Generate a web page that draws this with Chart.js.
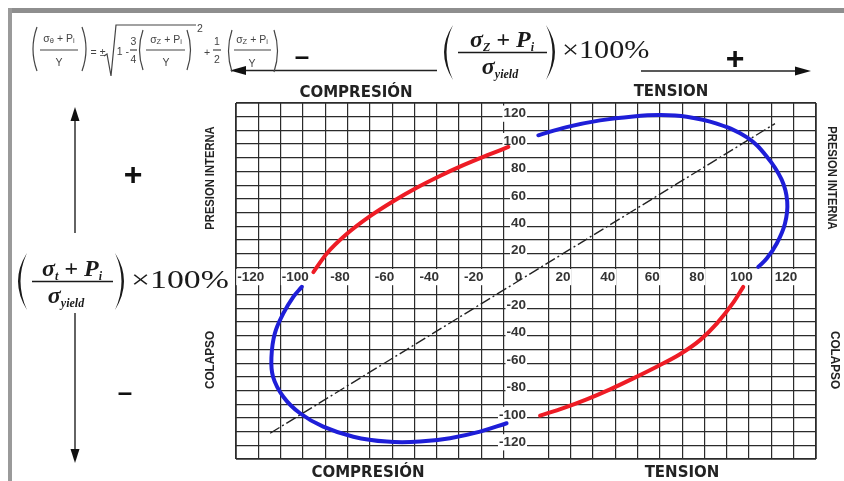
<!DOCTYPE html>
<html><head><meta charset="utf-8">
<script src="https://cdn.jsdelivr.net/npm/chart.js@4.4.1/dist/chart.umd.min.js"></script>
<style>
html,body{margin:0;padding:0;background:#fff;}
#wrap{position:relative;width:844px;height:481px;overflow:hidden;font-family:"Liberation Sans",Arial,sans-serif;background:#fff;}
#c{position:absolute;left:0;top:0;}
svg.deco{position:absolute;left:0;top:0;}
.c{position:absolute;transform:translate(-50%,-50%);white-space:nowrap;line-height:1;}
.l{position:absolute;transform:translate(0,-50%);white-space:nowrap;line-height:1;transform-origin:left center;}
.hdr{font-family:"DejaVu Sans",sans-serif;font-weight:bold;font-size:15px;color:#222;}
.vt{font-family:"Liberation Sans",Arial,sans-serif;font-weight:bold;font-size:13.5px;color:#222;}
.sm{font-family:"Liberation Sans",Arial,sans-serif;font-size:10.5px;color:#444;}
.sm sub{font-size:7.5px;vertical-align:-1px;}
.bf{font-family:"Liberation Serif","Times New Roman",serif;font-weight:bold;font-style:italic;font-size:24px;color:#1a1a1a;}
.bf sub{font-size:12px;vertical-align:-4px;}
.pct{font-family:"Liberation Serif","Times New Roman",serif;font-size:26px;color:#1a1a1a;}
.sign{font-family:"Liberation Sans",Arial,sans-serif;font-weight:bold;color:#111;}
</style></head>
<body>
<div id="wrap">
<canvas id="c" width="844" height="481"></canvas>
<svg class="deco" width="844" height="481">
  <rect x="8" y="8" width="836" height="5" fill="#8e8e8e"/>
  <rect x="8" y="8" width="4" height="473" fill="#9a9a9a"/>
  <line x1="242" y1="70.5" x2="437" y2="70.5" stroke="#222" stroke-width="1.4"/>
  <polygon points="230,70.5 246,66 246,75" fill="#111"/>
  <line x1="641" y1="71" x2="798" y2="71" stroke="#222" stroke-width="1.4"/>
  <polygon points="811,71 795,66.5 795,75.5" fill="#111"/>
  <line x1="75" y1="118" x2="75" y2="233" stroke="#222" stroke-width="1.4"/>
  <polygon points="75,107 70.5,121 79.5,121" fill="#111"/>
  <line x1="75" y1="313" x2="75" y2="452" stroke="#222" stroke-width="1.4"/>
  <polygon points="75,463 70.5,449 79.5,449" fill="#111"/>
  <path d="M453,25 Q435,52 453,80 Q440,52 453,25 Z" fill="#1a1a1a"/>
  <path d="M546,25 Q564,52 546,80 Q559,52 546,25 Z" fill="#1a1a1a"/>
  <line x1="458" y1="52.5" x2="547" y2="52.5" stroke="#1a1a1a" stroke-width="1.5"/>
  <path d="M27,253 Q9,281 27,310 Q14,281 27,253 Z" fill="#1a1a1a"/>
  <path d="M115,253 Q133,281 115,310 Q128,281 115,253 Z" fill="#1a1a1a"/>
  <line x1="32" y1="281.5" x2="113" y2="281.5" stroke="#1a1a1a" stroke-width="1.5"/>
  <g stroke="#444" stroke-width="1.2" fill="none">
    <path d="M37,27 Q29,49 37,71"/><path d="M82,27 Q90,49 82,71"/>
    <line x1="40" y1="50" x2="78" y2="50"/>
    <path d="M104,56 L107,54 L111,76 L116,25 L196,25"/>
    <line x1="130" y1="50" x2="137" y2="50"/>
    <path d="M143,30 Q136,50 143,70"/><path d="M187,30 Q194,50 187,70"/>
    <line x1="146" y1="50" x2="185" y2="50"/>
    <line x1="213" y1="50" x2="221" y2="50"/>
    <path d="M232,30 Q225,51 232,72"/><path d="M274,30 Q281,51 274,72"/>
    <line x1="234" y1="50" x2="271" y2="50"/>
  </g>
</svg>
<div class="c sm" style="left:59px;top:39px">σ<sub>θ</sub> + P<sub>i</sub></div>
<div class="c sm" style="left:59px;top:62px">Y</div>
<div class="c sm" style="left:98px;top:52px">= ±</div>
<div class="c sm" style="left:123px;top:51px">1 -</div>
<div class="c sm" style="left:133.5px;top:41px">3</div>
<div class="c sm" style="left:133.5px;top:59px">4</div>
<div class="c sm" style="left:166px;top:40px">σ<sub>Z</sub> + P<sub>i</sub></div>
<div class="c sm" style="left:166px;top:62px">Y</div>
<div class="c sm" style="left:200px;top:28px">2</div>
<div class="c sm" style="left:207px;top:52px">+</div>
<div class="c sm" style="left:217px;top:41px">1</div>
<div class="c sm" style="left:217px;top:59px">2</div>
<div class="c sm" style="left:252px;top:40px">σ<sub>Z</sub> + P<sub>i</sub></div>
<div class="c sm" style="left:252px;top:63px">Y</div>
<div class="c bf" style="left:502px;top:40px">σ<sub>Z</sub> + P<sub>i</sub></div>
<div class="c bf" style="left:500px;top:67px">σ<sub>yield</sub></div>
<div class="l pct" style="left:562px;top:50px;transform:translate(0,-50%) scaleX(1.16)">×100%</div>
<div class="c bf" style="left:72px;top:269px">σ<sub>t</sub> + P<sub>i</sub></div>
<div class="c bf" style="left:66px;top:296px">σ<sub>yield</sub></div>
<div class="l pct" style="left:131px;top:280px;transform:translate(0,-50%) scaleX(1.3)">×100%</div>
<div class="c sign" style="left:302px;top:56px;font-size:26px">–</div>
<div class="c sign" style="left:735px;top:58px;font-size:32px">+</div>
<div class="c sign" style="left:133px;top:174px;font-size:32px">+</div>
<div class="c sign" style="left:125px;top:392px;font-size:26px">–</div>
<div class="c hdr" style="left:356px;top:92px">COMPRESIÓN</div>
<div class="c hdr" style="left:671px;top:91px">TENSION</div>
<div class="c hdr" style="left:368px;top:472px">COMPRESIÓN</div>
<div class="c hdr" style="left:682px;top:472px">TENSION</div>
<div class="c vt" style="left:210px;top:178px;transform:translate(-50%,-50%) rotate(-90deg) scaleX(0.83)">PRESION INTERNA</div>
<div class="c vt" style="left:210px;top:360px;transform:translate(-50%,-50%) rotate(-90deg) scaleX(0.87)">COLAPSO</div>
<div class="c vt" style="left:832px;top:178px;transform:translate(-50%,-50%) rotate(90deg) scaleX(0.83)">PRESION INTERNA</div>
<div class="c vt" style="left:835px;top:360px;transform:translate(-50%,-50%) rotate(90deg) scaleX(0.87)">COLAPSO</div>
</div>
<script>
// ---- grid & tick values ----
const gridX = [-130,-120,-110,-100,-90,-80,-70,-60,-50,-40,-30,-20,-10,0,10,20,30,40,50,60,70,80,90,100,110,120,130];
const gridY = [-130,-120,-110,-100,-90,-80,-70,-60,-50,-40,-30,-20,-10,0,10,20,30,40,50,60,70,80,90,100,110,120,130];
const tickLabelsX = [-120,-100,-80,-60,-40,-20,0,20,40,60,80,100,120];
const tickLabelsY = [-120,-100,-80,-60,-40,-20,20,40,60,80,100,120];

// ---- series: [axial %, pressure %] ----
const redCompression = [[-95.3,6.5],[-89.3,20.1],[-80.4,34.3],[-69.9,47.4],[-59.5,58.3],[-49.0,68.1],[-38.6,76.7],[-28.1,84.6],[-17.6,91.7],[-7.9,97.9]];
const blueTension = [[5.5,106.4],[18.2,112.4],[33.2,117.3],[48.1,120.2],[60.1,121.2],[72.0,120.0],[85.5,114.9],[98.9,105.1],[107.9,91.0],[114.6,74.0],[117.1,58.0],[116.1,42.0],[112.4,27.4],[107.9,16.4],[104.1,10.3]];
const redTension = [[6.3,-98.3],[16.7,-92.8],[27.2,-86.4],[37.7,-79.1],[48.1,-71.1],[58.6,-62.6],[69.0,-53.5],[78.0,-43.2],[85.5,-31.1],[92.9,-15.8],[97.4,-4.3]];
const blueCompression = [[-100.5,-4.3],[-104.3,-11.6],[-108.8,-23.7],[-112.6,-38.3],[-114.1,-55.3],[-113.4,-69.9],[-108.8,-84.5],[-101.3,-96.6],[-90.9,-106.4],[-77.4,-113.7],[-62.4,-117.3],[-47.5,-117.3],[-34.1,-114.8],[-20.6,-110.0],[-8.7,-103.9]];
const loadLine = [[-114.7,-111.2],[111.6,114.9]];

const pts = a => a.map(p => ({x:p[0], y:p[1]}));
const RED = '#ee1c25', BLUE = '#1e1ed8';
const curve = (data, color, mono) => ({data: pts(data), borderColor: color, borderWidth: 4, pointRadius: 0, showLine: true,
  tension: 0.4, cubicInterpolationMode: mono ? 'monotone' : 'default', fill: false, borderCapStyle: 'round', borderJoinStyle: 'round'});

const SX = 3.4;
const SY = 2.2;
const tickFont = {family: '"Liberation Sans", Arial, sans-serif', size: 13.5, weight: 'bold'};
const gridColor = c => (c.tick && c.tick.value === 0) ? 'rgba(0,0,0,0)' : '#2b2b2b';
const gridWidth = c => (c.tick && Math.abs(c.tick.value) === 130) ? 1.8 : 1.2;

new Chart(document.getElementById('c'), {
  type: 'scatter',
  data: {
    datasets: [
      curve(redCompression, RED, true),
      curve(blueTension, BLUE, false),
      curve(redTension, RED, true),
      curve(blueCompression, BLUE, false),
      {data: pts(loadLine), borderColor: '#222', borderWidth: 1.4, borderDash: [11,3,2,3], pointRadius: 0, showLine: true, tension: 0}
    ]
  },
  options: {
    responsive: false, animation: false, devicePixelRatio: 1,
    layout: {padding: {left: 236, right: 28, top: 103, bottom: 22}},
    plugins: {legend: {display: false}, tooltip: {enabled: false}},
    scales: {
      x: {type: 'linear', position: 'bottom', min: -130, max: 130,
          afterBuildTicks: s => { s.ticks = gridX.map(v => ({value: v})); },
          ticks: {display: false}, border: {display: false},
          grid: {drawTicks: false, color: gridColor, lineWidth: gridWidth}},
      y: {type: 'linear', position: 'left', min: -130, max: 130,
          afterBuildTicks: s => { s.ticks = gridY.map(v => ({value: v})); },
          ticks: {display: false}, border: {display: false},
          grid: {drawTicks: false, color: gridColor, lineWidth: gridWidth}},
      xl: {type: 'linear', axis: 'x', position: {y: 0}, min: -130 + SX, max: 130 + SX, z: 1,
           afterBuildTicks: s => { s.ticks = tickLabelsX.map(v => ({value: v})); },
           grid: {display: false, drawTicks: false}, border: {display: false},
           ticks: {padding: -12, font: tickFont, color: '#333', autoSkip: false, maxRotation: 0,
                   showLabelBackdrop: true, backdropColor: '#fff', backdropPadding: {x: 1, y: 0}}},
      yl: {type: 'linear', axis: 'y', position: {x: 0}, min: -130 - SY, max: 130 - SY, z: 1,
           afterBuildTicks: s => { s.ticks = tickLabelsY.map(v => ({value: v})); },
           grid: {display: false, drawTicks: false}, border: {display: false},
           ticks: {padding: 0, font: tickFont, color: '#333', autoSkip: false,
                   showLabelBackdrop: true, backdropColor: '#fff', backdropPadding: {x: 1, y: 0}}}
    }
  }
});
</script>
</body></html>
